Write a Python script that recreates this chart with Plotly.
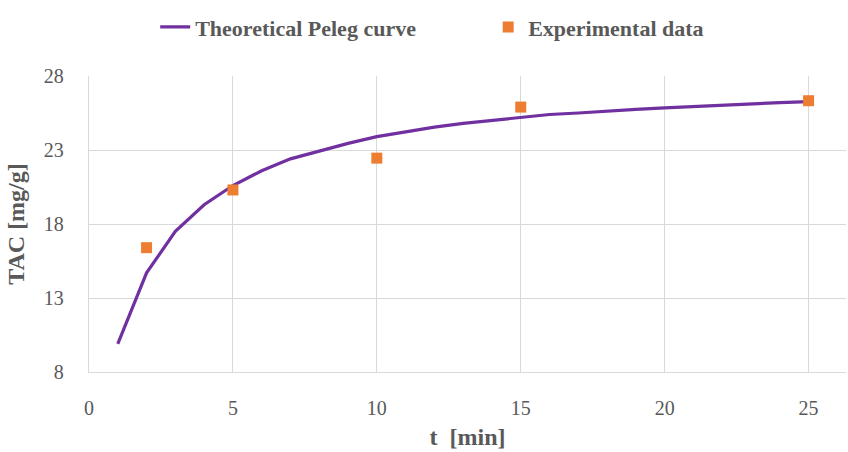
import plotly.graph_objects as go

t_curve = list(range(1, 26))
tac_curve = [9.9, 14.7, 17.5, 19.3, 20.6, 21.6, 22.4, 22.95, 23.45, 23.9,
             24.25, 24.55, 24.8, 25.0, 25.2, 25.4, 25.5, 25.65, 25.75, 25.85,
             25.95, 26.0, 26.1, 26.2, 26.27]

t_exp = [2, 5, 10, 15, 25]
tac_exp = [16.4, 20.3, 22.45, 25.9, 26.33]

x_ticks = [0, 5, 10, 15, 20, 25]
y_ticks = [8, 13, 18, 23, 28]

FONT = "Liberation Serif, serif"
GRID = "#d9d9d9"
TXT = "#595959"

fig = go.Figure()
fig.add_trace(go.Scatter(
    x=t_curve, y=tac_curve, mode="lines", name="<b>Theoretical Peleg curve</b>",
    line=dict(color="#7030a0", width=3.2),
))
fig.add_trace(go.Scatter(
    x=t_exp, y=tac_exp, mode="markers", name="<b>Experimental data</b>",
    marker=dict(symbol="square", size=11, color="#ed7d31"),
))

fig.update_layout(
    width=848, height=452,
    margin=dict(l=89, r=2, t=76, b=80),
    paper_bgcolor="white", plot_bgcolor="white",
    font=dict(family=FONT, size=20, color=TXT),
    showlegend=True,
    legend=dict(orientation="h", xref="container", x=0.183, xanchor="left",
                yref="container", y=0.94, yanchor="middle",
                font=dict(family=FONT, size=22, color=TXT),
                entrywidth=288, entrywidthmode="pixels",
                bgcolor="rgba(0,0,0,0)"),
    xaxis=dict(range=[0, 26.3], tickvals=x_ticks, showgrid=True, gridcolor=GRID, gridwidth=1.3,
               zeroline=False, showline=True, linecolor=GRID, linewidth=1.3,
               ticks="", ticklabelstandoff=18,
               tickfont=dict(family=FONT, size=20, color=TXT),
               title=dict(text="<b>t  [min]</b>", font=dict(family=FONT, size=24, color=TXT), standoff=10)),
    yaxis=dict(range=[8, 28], tickvals=y_ticks, showgrid=True, gridcolor=GRID, gridwidth=1.3,
               zeroline=False, showline=True, linecolor=GRID, linewidth=1.3,
               ticks="", ticklabelstandoff=20,
               tickfont=dict(family=FONT, size=20, color=TXT),
               title=dict(text="<b>TAC [mg/g]</b>", font=dict(family=FONT, size=24, color=TXT), standoff=12)),
)

fig.write_html("out.html")
